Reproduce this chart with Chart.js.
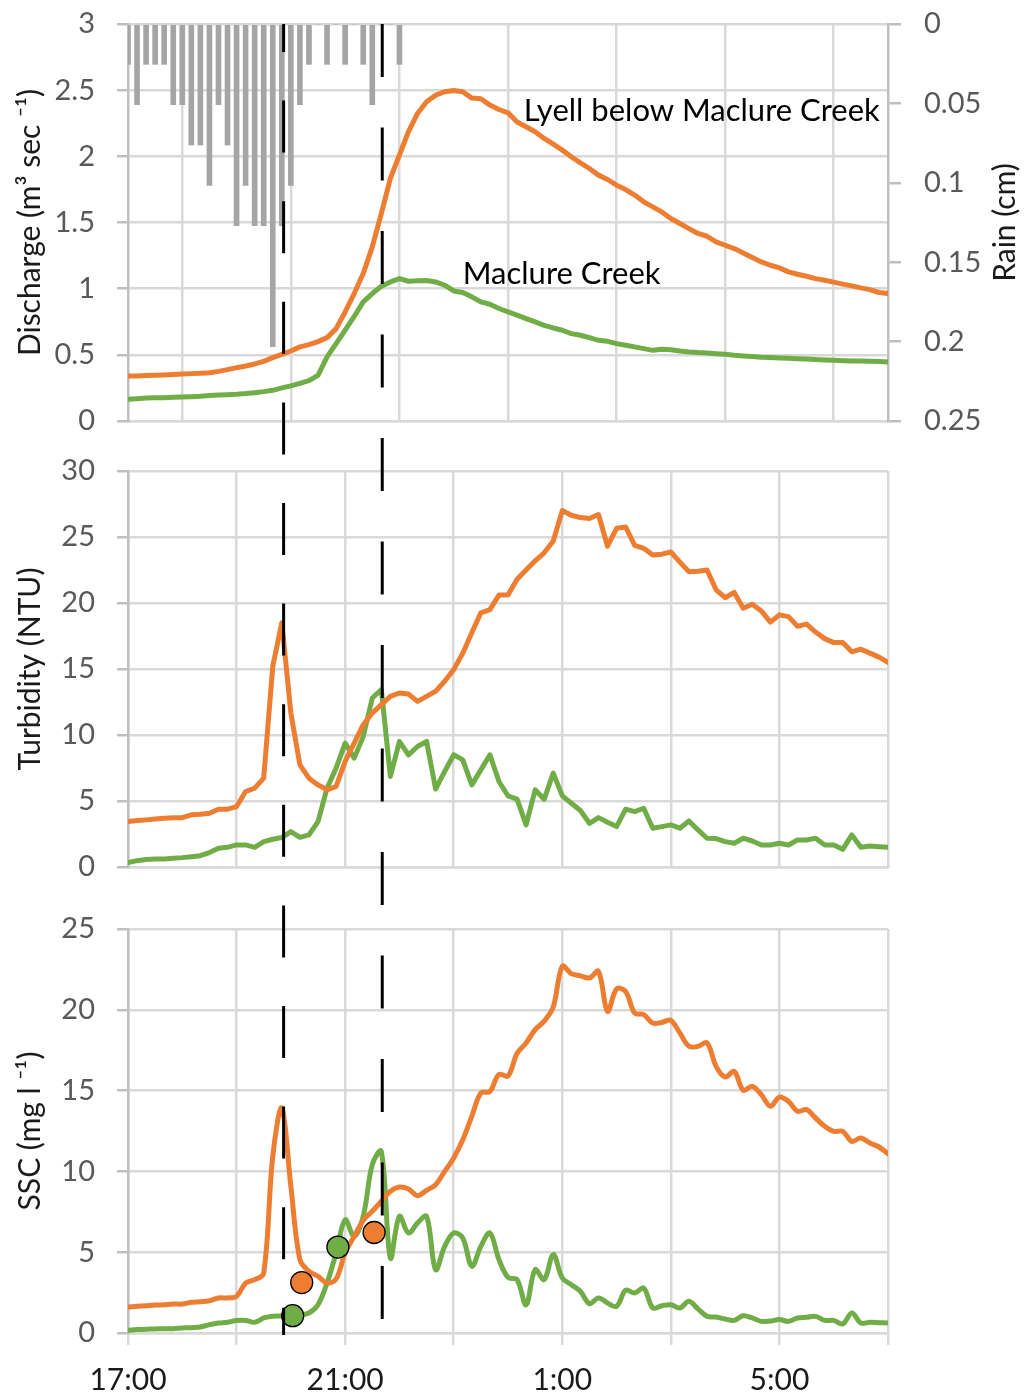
<!DOCTYPE html>
<html><head><meta charset="utf-8">
<script src="https://cdn.jsdelivr.net/npm/chart.js@4.4.1/dist/chart.umd.min.js"></script>
<style>
html,body{margin:0;padding:0;background:#fff;}
#wrap{position:relative;width:1031px;height:1392px;overflow:hidden;}
canvas{position:absolute;left:0;display:block;}
</style></head><body>
<div id="wrap">
<canvas id="c1" width="1031" height="446" style="top:0px"></canvas>
<canvas id="c2" width="1031" height="446" style="top:446px"></canvas>
<canvas id="c3" width="1031" height="500" style="top:892px"></canvas>
</div>
<script>
// ---- DATA (minutes after 17:00, 10-minute records) ----
const minutes = [0,10,20,30,40,50,60,70,80,90,100,110,
 120,130,140,150,160,170,180,190,200,210,220,230,
 240,250,260,270,280,290,300,310,320,330,340,350,
 360,370,380,390,400,410,420,430,440,450,460,470,
 480,490,500,510,520,530,540,550,560,570,580,590,
 600,610,620,630,640,650,660,670,680,690,700,710,
 720,730,740,750,760,770,780,790,800,810,820,830,
 840];

const dischargeLyell = [0.34,0.34,0.343,0.345,0.348,0.352,0.355,0.358,0.36,0.365,0.375,0.388,
 0.403,0.416,0.431,0.451,0.479,0.504,0.529,0.56,0.577,0.6,0.63,0.698,
 0.824,0.963,1.114,1.316,1.568,1.833,2.01,2.186,2.324,2.412,2.462,2.488,
 2.498,2.488,2.44,2.435,2.387,2.354,2.329,2.26,2.223,2.186,2.135,2.092,
 2.047,1.997,1.951,1.908,1.858,1.825,1.782,1.749,1.707,1.656,1.618,1.58,
 1.53,1.492,1.454,1.417,1.396,1.354,1.328,1.303,1.27,1.235,1.202,1.177,
 1.157,1.127,1.109,1.094,1.076,1.064,1.049,1.034,1.021,1.006,0.993,0.971,
 0.963];

const dischargeMaclure = [0.164,0.169,0.174,0.176,0.176,0.179,0.181,0.184,0.187,0.192,0.197,0.199,
 0.202,0.207,0.214,0.222,0.232,0.25,0.265,0.285,0.305,0.345,0.484,0.585,
 0.686,0.79,0.9,0.963,1.018,1.051,1.076,1.056,1.059,1.061,1.051,1.026,
 0.983,0.971,0.938,0.9,0.882,0.85,0.825,0.8,0.774,0.749,0.723,0.703,
 0.686,0.66,0.648,0.63,0.61,0.602,0.585,0.572,0.56,0.547,0.534,0.542,
 0.539,0.529,0.522,0.517,0.514,0.509,0.504,0.497,0.492,0.487,0.481,0.479,
 0.476,0.474,0.471,0.469,0.464,0.461,0.459,0.456,0.454,0.454,0.451,0.449,
 0.446];

const turbidityLyell = [3.44,3.52,3.57,3.64,3.69,3.74,3.74,3.95,4.0,4.07,4.38,4.38,
 4.58,5.72,5.97,6.73,15.2,18.5,11.66,7.74,6.73,6.22,5.85,6.1,
 8.0,9.39,10.78,11.66,12.3,12.93,13.18,13.1,12.55,12.93,13.31,14.07,
 14.95,16.2,17.74,19.26,19.5,20.6,20.6,21.8,22.5,23.2,23.8,24.7,
 27.0,26.65,26.47,26.4,26.7,24.3,25.66,25.76,24.37,24.14,23.63,23.7,
 23.86,23.1,22.37,22.4,22.5,21.0,20.4,20.8,19.6,19.9,19.4,18.55,
 19.1,18.97,18.24,18.4,17.8,17.3,17.0,17.0,16.3,16.5,16.2,15.9,
 15.5];

const turbidityMaclure = [0.33,0.48,0.56,0.61,0.61,0.66,0.71,0.78,0.86,1.09,1.42,1.49,
 1.67,1.67,1.49,1.92,2.1,2.23,2.68,2.25,2.43,3.44,5.97,7.49,
 9.39,8.25,9.89,12.8,13.44,6.86,9.52,8.5,9.13,9.52,5.9,7.24,
 8.5,8.12,6.22,7.36,8.5,6.48,5.39,5.14,3.19,5.85,5.14,7.11,
 5.39,4.83,4.28,3.31,3.74,3.39,3.06,4.38,4.2,4.45,2.94,3.06,
 3.19,2.94,3.49,2.81,2.18,2.15,1.92,1.8,2.18,1.97,1.67,1.67,
 1.8,1.67,2.05,2.05,2.18,1.67,1.67,1.34,2.43,1.49,1.59,1.54,
 1.49];

const sscLyell = [1.61,1.65,1.69,1.73,1.75,1.79,1.79,1.9,1.94,2.0,2.17,2.17,
 2.27,3.09,3.3,3.71,10.93,13.92,9.08,4.54,3.82,3.51,3.09,3.34,
 4.95,5.98,6.97,7.53,8.15,8.77,9.03,8.91,8.5,8.83,9.18,10.0,
 10.83,11.96,13.41,14.85,14.95,16.0,15.9,17.3,17.95,18.77,19.3,20.17,
 22.7,22.24,22.1,21.97,22.38,19.9,21.29,21.14,19.8,19.7,19.18,19.22,
 19.35,18.56,17.74,17.74,17.95,16.5,15.84,16.19,15.02,15.26,14.75,14.03,
 14.6,14.33,13.72,13.82,13.3,12.79,12.48,12.48,11.86,12.07,11.76,11.51,
 11.1];

const sscMaclure = [0.17,0.21,0.23,0.25,0.27,0.27,0.31,0.33,0.37,0.52,0.62,0.66,
 0.78,0.78,0.66,0.93,1.03,1.07,1.24,1.13,1.24,1.75,3.09,4.95,
 7.01,5.98,7.22,10.42,11.24,4.64,7.22,6.19,6.81,7.22,3.92,5.36,
 6.19,5.88,4.13,5.36,6.19,4.54,3.44,3.3,1.75,3.92,3.3,4.85,
 3.4,2.99,2.58,1.82,2.17,1.86,1.65,2.64,2.48,2.78,1.55,1.69,
 1.75,1.55,1.96,1.49,1.03,0.99,0.87,0.78,1.07,0.93,0.72,0.74,
 0.83,0.72,0.93,0.97,1.03,0.78,0.78,0.56,1.24,0.62,0.66,0.64,
 0.62];

const rainMinutes = [0,10,20,30,40,50,60,70,80,90,100,110,120,130,140,150,
 160,170,180,190,200,210,220,230,240,250,260,270,280,290,300];
const rainCm = [0.0254,0.0508,0.0254,0.0254,0.0254,0.0508,0.0508,0.0762,0.0762,0.1016,0.0508,0.0762,
 0.127,0.1016,0.127,0.127,0.2032,0.127,0.1016,0.0508,0.0254,0,0.0254,0,0.0254,0,0.0254,0.0508,0,0,0.0254];

const sampleLyellMinutes = [192, 272];
const sampleLyellSSC = [3.12, 6.22];
const sampleMaclureMinutes = [182, 232];
const sampleMaclureSSC = [1.07, 5.32];

const eventMinutes = [172, 281];

const tickLabelMinutes = [0, 240, 480, 720];
const tickLabels = ['17:00', '21:00', '1:00', '5:00'];

const seriesNames = ['Lyell below Maclure Creek', 'Maclure Creek'];
const seriesNameAnchors = [{x: 831, y: 2.34}, {x: 370, y: 1.11}];

// ---- STYLE ----
const ORANGE = '#ed7d31', GREEN = '#70ad47', GRID = '#d9d9d9', AXIS = '#bfbfbf';
const FONT = 'Lato';
const dashStyles = [{pattern: [52, 48.6], origin: 0}, {pattern: [53, 50.5], origin: 24}];

const pts = (xs, ys) => ys.map((v, i) => ({x: xs[i], y: v}));
const noPad = (s) => { s.paddingTop = 0; s.paddingBottom = 0; s.paddingLeft = 0; s.paddingRight = 0; };

function xScale(showLabels, h) {
  return {
    type: 'linear', min: 0, max: 840, offset: false,
    ticks: {stepSize: 120, autoSkip: false, maxRotation: 0, minRotation: 0, display: showLabels,
      padding: 17, color: '#1a1a1a', font: {family: FONT, size: 30},
      callback: (v) => { const i = tickLabelMinutes.indexOf(v); return i >= 0 ? tickLabels[i] : ''; }},
    grid: {color: GRID, lineWidth: 2.5, drawTicks: showLabels, tickLength: 12, tickColor: GRID},
    border: {display: true, color: GRID, width: 2.5},
    afterFit: (s) => { s.height = h; noPad(s); }
  };
}
function yLeft(min, max, step, title) {
  return {
    type: 'linear', position: 'left', min, max,
    ticks: {stepSize: step, padding: 22, color: '#595959', font: {family: FONT, size: 29},
      format: {minimumFractionDigits: 0, maximumFractionDigits: 2}},
    grid: {color: GRID, lineWidth: 2.5, tickLength: 11, tickColor: AXIS},
    border: {display: true, color: AXIS, width: 2.5},
    title: {display: true, text: title, color: '#1a1a1a', font: {family: FONT, size: 30}, padding: {top: 12, bottom: 0}},
    afterFit: (s) => { s.width = 128; noPad(s); }
  };
}
function lineDs(label, xs, ys, color, tension, order) {
  return {type: 'line', label, data: pts(xs, ys), borderColor: color, backgroundColor: color,
    borderWidth: 5, pointRadius: 0, tension, fill: false, order, borderJoinStyle: 'round', borderCapStyle: 'round'};
}

const eventLinesPlugin = {
  id: 'eventLines',
  afterDatasetsDraw(chart, args, opts) {
    const {ctx, chartArea, scales} = chart;
    const x = scales.x;
    const y0 = opts.fromTop ? chartArea.top : 0;
    const y1 = opts.toBottom ? chartArea.bottom + 2 : chart.height;
    ctx.save();
    ctx.strokeStyle = '#000';
    ctx.lineWidth = 3;
    eventMinutes.forEach((m, i) => {
      const px = x.getPixelForValue(m);
      const [d, g] = dashStyles[i].pattern;
      const period = d + g;
      const off = (((opts.pageTop + y0 - dashStyles[i].origin) % period) + period) % period;
      ctx.setLineDash([d, g]);
      ctx.lineDashOffset = off;
      ctx.beginPath(); ctx.moveTo(px, y0); ctx.lineTo(px, y1); ctx.stroke();
    });
    ctx.restore();
  }
};

const annotPlugin = {
  id: 'annot',
  afterDatasetsDraw(chart) {
    const {ctx, scales} = chart;
    ctx.save();
    ctx.font = '31px ' + FONT;
    ctx.fillStyle = '#000';
    ctx.textBaseline = 'middle';
    seriesNames.forEach((name, i) => {
      const a = seriesNameAnchors[i];
      ctx.textAlign = i === 0 ? 'right' : 'left';
      ctx.fillText(name, scales.x.getPixelForValue(a.x), scales.y.getPixelForValue(a.y));
    });
    // secondary axis title, reading bottom-to-top
    const r = scales.yRain;
    ctx.translate(r.right - 26, (r.top + r.bottom) / 2);
    ctx.rotate(-Math.PI / 2);
    ctx.textAlign = 'center';
    ctx.font = '30px ' + FONT;
    ctx.fillStyle = '#1a1a1a';
    ctx.fillText('Rain (cm)', 0, 0);
    ctx.restore();
  }
};

Chart.defaults.font.family = FONT;
const base = {responsive: false, animation: false, events: [],
  plugins: {legend: {display: false}, tooltip: {enabled: false}}};

// Panel 1: discharge + rain
new Chart(document.getElementById('c1'), {
  type: 'line',
  data: {datasets: [
    lineDs('Lyell below Maclure Creek', minutes, dischargeLyell, ORANGE, 0, 1),
    lineDs('Maclure Creek', minutes, dischargeMaclure, GREEN, 0, 2),
    {type: 'bar', label: 'Rain', data: pts(rainMinutes, rainCm), yAxisID: 'yRain',
     backgroundColor: '#a5a5a5', barThickness: 5, order: 3}
  ]},
  options: Object.assign({}, base, {
    layout: {padding: {top: 24, right: 0, left: 0, bottom: 0}},
    scales: {
      x: xScale(false, 25),
      y: yLeft(0, 3, 0.5, 'Discharge (m\u00B3 sec \u207B\u00B9)'),
      yRain: {type: 'linear', position: 'right', min: 0, max: 0.25, reverse: true,
        ticks: {stepSize: 0.05, padding: 23, color: '#595959', font: {family: FONT, size: 29},
          format: {minimumFractionDigits: 0, maximumFractionDigits: 2}},
        grid: {drawOnChartArea: false, lineWidth: 2.5, tickLength: 13, tickColor: AXIS},
        border: {display: true, color: AXIS, width: 2.5},
        afterFit: (s) => { s.width = 143; noPad(s); }}
    },
    plugins: Object.assign({}, base.plugins, {eventLines: {pageTop: 0, fromTop: true, toBottom: false}})
  }),
  plugins: [eventLinesPlugin, annotPlugin]
});

// Panel 2: turbidity
new Chart(document.getElementById('c2'), {
  type: 'line',
  data: {datasets: [
    lineDs('Lyell below Maclure Creek', minutes, turbidityLyell, ORANGE, 0, 1),
    lineDs('Maclure Creek', minutes, turbidityMaclure, GREEN, 0, 2)
  ]},
  options: Object.assign({}, base, {
    layout: {padding: {top: 25, right: 143, left: 0, bottom: 0}},
    scales: {x: xScale(false, 25), y: yLeft(0, 30, 5, 'Turbidity (NTU)')},
    plugins: Object.assign({}, base.plugins, {eventLines: {pageTop: 446, fromTop: false, toBottom: false}})
  }),
  plugins: [eventLinesPlugin]
});

// Panel 3: SSC
new Chart(document.getElementById('c3'), {
  type: 'line',
  data: {datasets: [
    {type: 'line', label: 'Lyell samples', data: pts(sampleLyellMinutes, sampleLyellSSC), showLine: false,
     pointRadius: 11, pointBackgroundColor: ORANGE, pointBorderColor: '#000', pointBorderWidth: 1.3, order: 0},
    {type: 'line', label: 'Maclure samples', data: pts(sampleMaclureMinutes, sampleMaclureSSC), showLine: false,
     pointRadius: 11, pointBackgroundColor: GREEN, pointBorderColor: '#000', pointBorderWidth: 1.3, order: 0},
    lineDs('Lyell below Maclure Creek', minutes, sscLyell, ORANGE, 0.35, 1),
    lineDs('Maclure Creek', minutes, sscMaclure, GREEN, 0.35, 2)
  ]},
  options: Object.assign({}, base, {
    layout: {padding: {top: 37, right: 143, left: 0, bottom: 0}},
    scales: {x: xScale(true, 59), y: yLeft(0, 25, 5, 'SSC (mg l \u207B\u00B9)')},
    plugins: Object.assign({}, base.plugins, {eventLines: {pageTop: 892, fromTop: false, toBottom: true}})
  }),
  plugins: [eventLinesPlugin]
});
</script>
</body></html>
